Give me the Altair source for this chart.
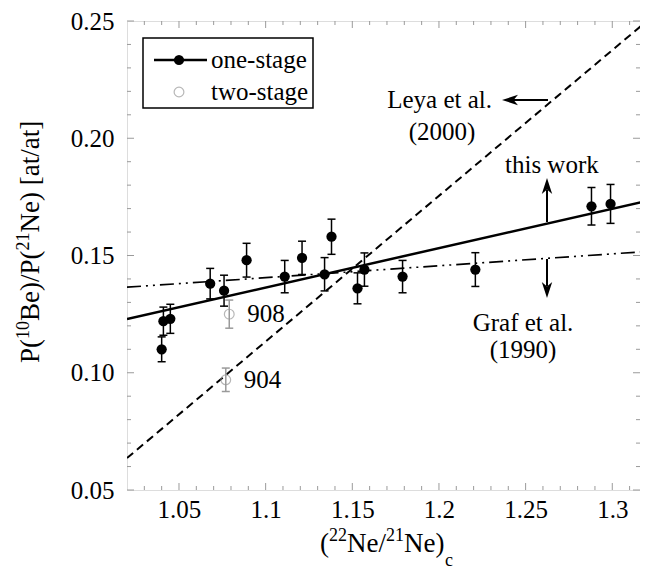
import altair as alt
import pandas as pd

# ---------------- data ----------------
one_x = [1.040, 1.041, 1.045, 1.068, 1.076, 1.089, 1.111, 1.121, 1.134, 1.138,
         1.153, 1.157, 1.179, 1.221, 1.288, 1.299]
one_y = [0.110, 0.122, 0.123, 0.138, 0.135, 0.148, 0.141, 0.149, 0.142, 0.158,
         0.136, 0.144, 0.141, 0.144, 0.171, 0.172]
one_err = [0.0053, 0.0060, 0.0062, 0.0065, 0.0066, 0.0072, 0.0069, 0.0071, 0.0071, 0.0075,
           0.0066, 0.0071, 0.0069, 0.0072, 0.0080, 0.0083]

two_x = [1.079, 1.077]
two_y = [0.125, 0.097]
two_err = [0.0060, 0.0050]
two_names = ["908", "904"]

leya_x = [1.02, 1.32]
leya_y = [0.0636, 0.25]
this_x = [1.02, 1.32]
this_y = [0.1229, 0.1733]
graf_x = [1.02, 1.32]
graf_y = [0.1365, 0.1517]

x_major = [1.05, 1.10, 1.15, 1.20, 1.25, 1.30]
x_minor = [1.03, 1.04, 1.06, 1.07, 1.08, 1.09, 1.11, 1.12, 1.13, 1.14, 1.16, 1.17,
           1.18, 1.19, 1.21, 1.22, 1.23, 1.24, 1.26, 1.27, 1.28, 1.29, 1.31]
y_major = [0.05, 0.10, 0.15, 0.20, 0.25]
y_minor = [0.06, 0.07, 0.08, 0.09, 0.11, 0.12, 0.13, 0.14, 0.16, 0.17, 0.18, 0.19,
           0.21, 0.22, 0.23, 0.24]

legend_labels = ["one-stage", "two-stage"]
# axis titles, split into normal / superscript / subscript pieces
y_title_parts = ["P(", "10", "Be)/P(", "21", "Ne) [at/at]"]
x_title_parts = ["(", "22", "Ne/", "21", "Ne)", "c"]

# ---------------- layout ----------------
FONT = "Liberation Serif"
W, H = 513, 469
xs = alt.Scale(domain=[1.02, 1.316], nice=False, zero=False)
ys = alt.Scale(domain=[0.05, 0.25], nice=False, zero=False)
GRAY = "#9a9a9a"

xaxis = alt.Axis(values=x_major, format=".2~f", labelFont=FONT, labelFontSize=25,
                 labelColor="black", labelPadding=7, ticks=False, domain=False,
                 grid=False, title=None, labelFlush=False)
yaxis = alt.Axis(values=y_major, format=".2f", labelFont=FONT, labelFontSize=25,
                 labelColor="black", labelPadding=13, ticks=False, domain=False,
                 grid=False, title=None, labelFlush=False)

X = alt.X("x:Q", scale=xs, axis=xaxis)
Y = alt.Y("y:Q", scale=ys, axis=yaxis)

one = pd.DataFrame({"x": one_x, "y": one_y,
                    "lo": [a - b for a, b in zip(one_y, one_err)],
                    "hi": [a + b for a, b in zip(one_y, one_err)]})
two = pd.DataFrame({"x": two_x, "y": two_y, "name": two_names,
                    "lo": [a - b for a, b in zip(two_y, two_err)],
                    "hi": [a + b for a, b in zip(two_y, two_err)]})

def line(xv, yv, **kw):
    return alt.Chart(pd.DataFrame({"x": xv, "y": yv})).mark_line(
        color="black", clip=True, **kw).encode(x=X, y=Y)

leya = line(leya_x, leya_y, strokeWidth=2, strokeDash=[8, 5])
this = line(this_x, this_y, strokeWidth=2.5)
graf = line(graf_x, graf_y, strokeWidth=1.6, strokeDash=[14, 5, 2, 5, 2, 5])

def errbars(df, color):
    base = alt.Chart(df)
    bar = base.mark_rule(color=color, strokeWidth=1.5).encode(
        x=X, y=alt.Y("lo:Q", scale=ys, axis=yaxis), y2="hi:Q")
    cap_hi = base.mark_rule(color=color, strokeWidth=1.5, xOffset=-4, x2Offset=4).encode(
        x=X, x2="x:Q", y=alt.Y("hi:Q", scale=ys, axis=yaxis))
    cap_lo = base.mark_rule(color=color, strokeWidth=1.5, xOffset=-4, x2Offset=4).encode(
        x=X, x2="x:Q", y=alt.Y("lo:Q", scale=ys, axis=yaxis))
    return bar + cap_hi + cap_lo

one_err_l = errbars(one, "black")
two_err_l = errbars(two, GRAY)

one_pts = alt.Chart(one).mark_circle(color="black", size=105, opacity=1).encode(x=X, y=Y)
two_pts = alt.Chart(two).mark_point(color=GRAY, size=95, strokeWidth=1.2,
                                    filled=False, shape="circle").encode(x=X, y=Y)
two_lab = alt.Chart(two).mark_text(font=FONT, fontSize=25, align="left",
                                   baseline="middle", dx=18).encode(x=X, y=Y, text="name:N")

# frame ticks (inward)
def ticks(vals, axis, length):
    if axis == "x":
        df = pd.DataFrame({"x": vals})
        bot = alt.Chart(df).mark_rule(color=GRAY, strokeWidth=1).encode(
            x=X, y=alt.value(H), y2=alt.value(H - length))
        top = alt.Chart(df).mark_rule(color=GRAY, strokeWidth=1).encode(
            x=X, y=alt.value(0), y2=alt.value(length))
        return bot + top
    df = pd.DataFrame({"y": vals})
    left = alt.Chart(df).mark_rule(color=GRAY, strokeWidth=1).encode(
        y=Y, x=alt.value(0), x2=alt.value(length))
    right = alt.Chart(df).mark_rule(color=GRAY, strokeWidth=1).encode(
        y=Y, x=alt.value(W), x2=alt.value(W - length))
    return left + right

tick_layers = (ticks(x_major, "x", 7) + ticks(x_minor, "x", 4)
               + ticks(y_major, "y", 7) + ticks(y_minor, "y", 4))

# annotations
def txt(s, x, y, align="left", size=25, baseline="middle", angle=None):
    kw = dict(font=FONT, fontSize=size, align=align, baseline=baseline, color="black")
    if angle is not None:
        kw["angle"] = angle
    return alt.Chart(pd.DataFrame({"t": [s]})).mark_text(**kw).encode(
        x=alt.value(x), y=alt.value(y), text="t:N")

def hrule(x1, x2, y, w=2, color="black"):
    return alt.Chart(pd.DataFrame({"a": [0]})).mark_rule(color=color, strokeWidth=w).encode(
        x=alt.value(x1), x2=alt.value(x2), y=alt.value(y))

def vrule(x, y1, y2, w=2):
    return alt.Chart(pd.DataFrame({"a": [0]})).mark_rule(color="black", strokeWidth=w).encode(
        x=alt.value(x), y=alt.value(y1), y2=alt.value(y2))

def head(x, y, path, size=256):
    return alt.Chart(pd.DataFrame({"a": [0]})).mark_point(
        shape=path, filled=True, color="black", size=size, opacity=1).encode(
        x=alt.value(x), y=alt.value(y))

LEFT = "M -1 0 L 1 -0.65 L 0.45 0 L 1 0.65 Z"
UP = "M 0 -1 L -0.65 1 L 0 0.45 L 0.65 1 Z"
DOWN = "M 0 1 L -0.65 -1 L 0 -0.45 L 0.65 -1 Z"

annots = (
    hrule(385, 421, 79) + head(383, 79, LEFT)
    + txt("Leya et al.", 365, 79, align="right")
    + txt("(2000)", 315, 111, align="center")
    + vrule(420, 201, 169) + head(420, 165, UP)
    + txt("this work", 378, 144)
    + vrule(420, 238, 265) + head(420, 269, DOWN)
    + txt("Graf et al.", 396, 302, align="center")
    + txt("(1990)", 396, 329, align="center")
)

# legend box
box = alt.Chart(pd.DataFrame({"a": [0]})).mark_rect(
    fill="white", stroke="black", strokeWidth=1.5).encode(
    x=alt.value(16), x2=alt.value(186), y=alt.value(17), y2=alt.value(87))
leg = (
    box
    + hrule(27, 80, 39, w=2.5)
    + alt.Chart(pd.DataFrame({"a": [0]})).mark_circle(color="black", size=105, opacity=1).encode(
        x=alt.value(52), y=alt.value(39))
    + alt.Chart(pd.DataFrame({"a": [0]})).mark_point(color=GRAY, size=95, filled=False,
                                                     shape="circle", strokeWidth=1.2).encode(
        x=alt.value(52), y=alt.value(71))
    + txt(legend_labels[0], 84, 39, size=25)
    + txt(legend_labels[1], 84, 71, size=25)
)

# composed axis titles (rotated y title reads bottom-to-top)
TB = 27   # main title size
TS = 18   # sup/sub size
yp = y_title_parts
y_title = (
    txt(yp[0], -88, 342, size=TB, baseline="alphabetic", angle=270)
    + txt(yp[1], -98, 318, size=TS, baseline="alphabetic", angle=270)
    + txt(yp[2], -88, 300, size=TB, baseline="alphabetic", angle=270)
    + txt(yp[3], -98, 229.5, size=TS, baseline="alphabetic", angle=270)
    + txt(yp[4], -88, 211.5, size=TB, baseline="alphabetic", angle=270)
)
xp = x_title_parts
x_title = (
    txt(xp[0], 193, 531, size=TB, baseline="alphabetic")
    + txt(xp[1], 202, 520, size=TS, baseline="alphabetic")
    + txt(xp[2], 220, 531, size=TB, baseline="alphabetic")
    + txt(xp[3], 259, 520, size=TS, baseline="alphabetic")
    + txt(xp[4], 277, 531, size=TB, baseline="alphabetic")
    + txt(xp[5], 318, 545, size=TS, baseline="alphabetic")
)

chart = alt.layer(
    leya, graf, this, tick_layers,
    one_err_l, two_err_l, one_pts, two_pts, two_lab,
    annots, leg, y_title, x_title,
).properties(
    width=W, height=H,
    autosize=alt.AutoSizeParams(type="none"),
    padding={"left": 119, "top": 13, "right": 0, "bottom": 86},
).configure_axis(
    labelFont=FONT, labelFontSize=25, labelColor="black"
).configure_view(stroke=GRAY, strokeWidth=1).configure(background="white")

chart.save("out.html", embed_options={"renderer": "svg", "actions": False})
